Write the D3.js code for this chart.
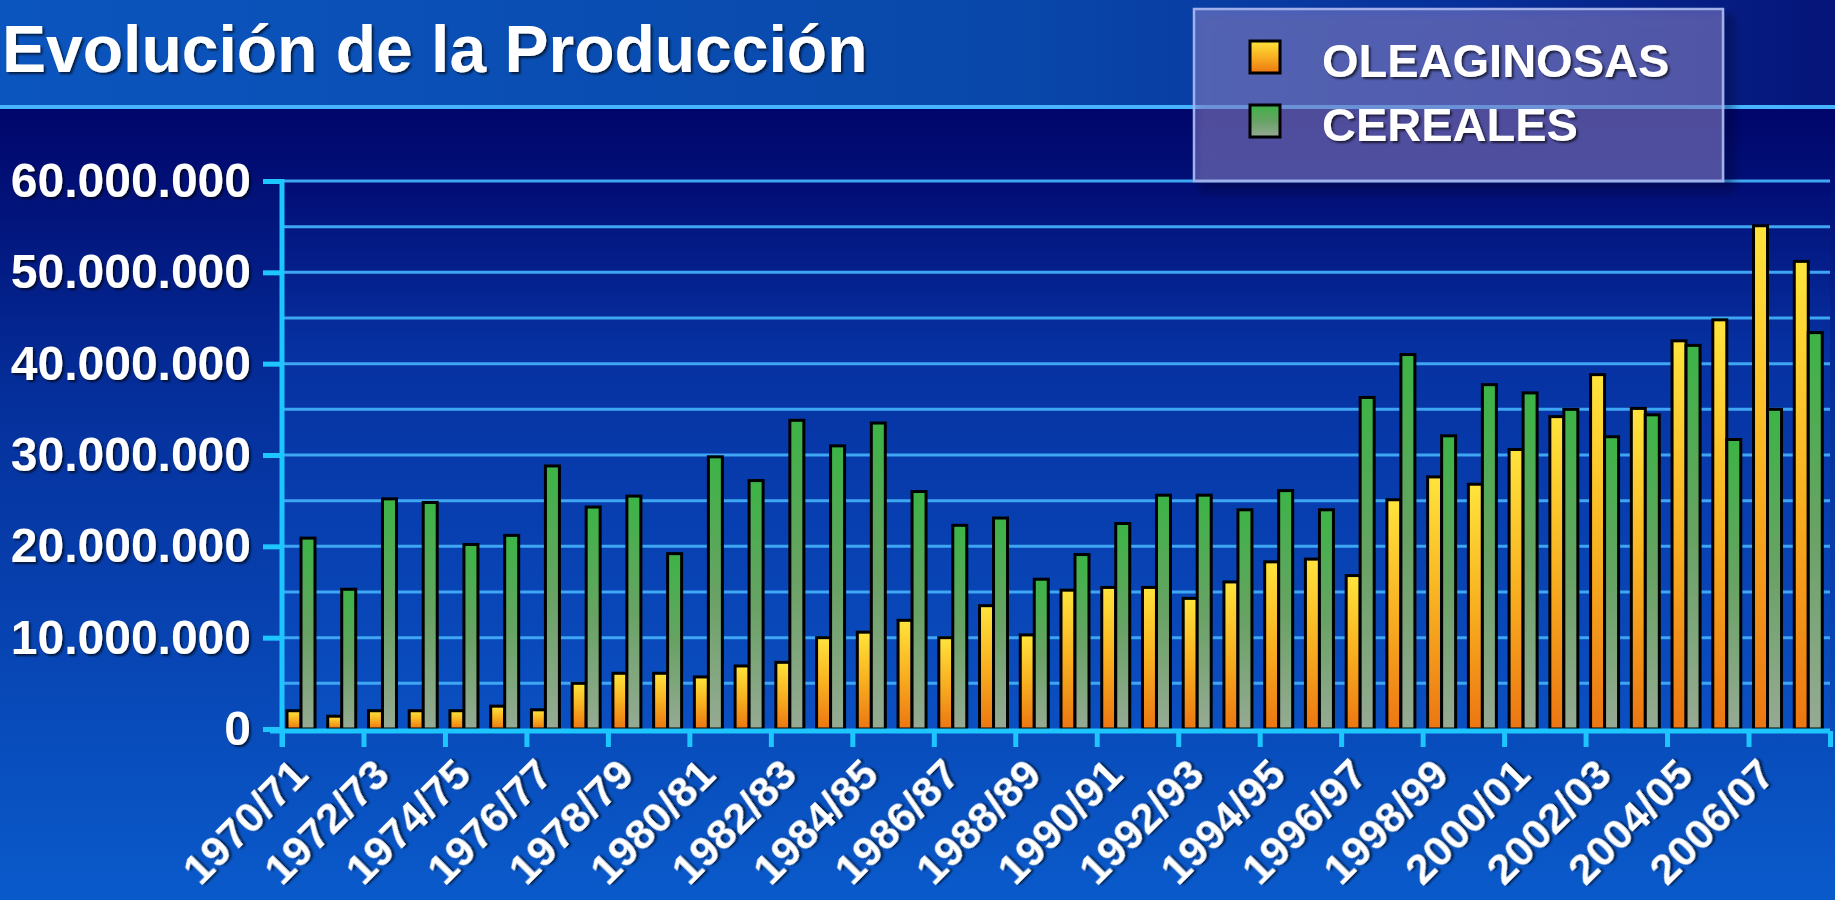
<!DOCTYPE html>
<html>
<head>
<meta charset="utf-8">
<script src="https://cdn.jsdelivr.net/npm/d3@7/dist/d3.min.js"></script>
<style>
  html, body { margin: 0; padding: 0; background: #00066a; overflow: hidden; }
  svg { display: block; font-family: "Liberation Sans", Arial, sans-serif; }
</style>
</head>
<body>
<div id="chart"></div>
<script>
// campaigns (1970/71 .. 2007/08)
const campaigns = [
  '1970/71','1971/72','1972/73','1973/74','1974/75','1975/76','1976/77','1977/78',
  '1978/79','1979/80','1980/81','1981/82','1982/83','1983/84','1984/85','1985/86',
  '1986/87','1987/88','1988/89','1989/90','1990/91','1991/92','1992/93','1993/94',
  '1994/95','1995/96','1996/97','1997/98','1998/99','1999/00','2000/01','2001/02',
  '2002/03','2003/04','2004/05','2005/06','2006/07','2007/08'
];

// tick labels shown under the axis (every other campaign)
const xLabels = [
  '1970/71','1972/73','1974/75','1976/77','1978/79','1980/81','1982/83','1984/85',
  '1986/87','1988/89','1990/91','1992/93','1994/95','1996/97','1998/99','2000/01',
  '2002/03','2004/05','2006/07'
];

// production in tonnes
const oleaginosas = [
  2000000, 1400000, 2000000, 2000000, 2000000, 2500000, 2100000, 5000000,
  6100000, 6100000, 5700000, 6900000, 7300000, 10000000, 10600000, 11900000,
  10000000, 13500000, 10300000, 15200000, 15500000, 15500000, 14300000, 16100000,
  18300000, 18600000, 16800000, 25100000, 27600000, 26800000, 30600000, 34200000,
  38800000, 35100000, 42500000, 44800000, 55100000, 51200000
];

const cereales = [
  20900000, 15300000, 25200000, 24800000, 20200000, 21200000, 28800000, 24300000,
  25500000, 19200000, 29800000, 27200000, 33800000, 31000000, 33500000, 26000000,
  22300000, 23100000, 16400000, 19100000, 22500000, 25600000, 25600000, 24000000,
  26100000, 24000000, 36300000, 41000000, 32100000, 37700000, 36800000, 35000000,
  32000000, 34400000, 42000000, 31700000, 35000000, 43400000
];

const seriesNames = ['OLEAGINOSAS', 'CEREALES'];
const yTicks = [0, 10000000, 20000000, 30000000, 40000000, 50000000, 60000000];
const gridValues = [5000000, 10000000, 15000000, 20000000, 25000000, 30000000,
  35000000, 40000000, 45000000, 50000000, 55000000, 60000000];

const W = 1835, H = 900;
const plot = { left: 282, right: 1830, top: 181, bottom: 729 };

const svg = d3.select('#chart').append('svg')
  .attr('width', W)
  .attr('height', H);

const defs = svg.append('defs');

// page background
const bgGrad = defs.append('linearGradient').attr('id', 'bgGrad')
  .attr('x1', 0).attr('y1', 0).attr('x2', 0).attr('y2', 1);
bgGrad.append('stop').attr('offset', '0.12').attr('stop-color', '#00056a');
bgGrad.append('stop').attr('offset', '0.45').attr('stop-color', '#05309c');
bgGrad.append('stop').attr('offset', '1').attr('stop-color', '#0a5acb');

const headGrad = defs.append('linearGradient').attr('id', 'headGrad')
  .attr('x1', 0).attr('y1', 0).attr('x2', 1).attr('y2', 0);
headGrad.append('stop').attr('offset', '0').attr('stop-color', '#0b55be');
headGrad.append('stop').attr('offset', '0.55').attr('stop-color', '#0948aa');
headGrad.append('stop').attr('offset', '0.8').attr('stop-color', '#07309a');
headGrad.append('stop').attr('offset', '1').attr('stop-color', '#051478');

const plotGrad = defs.append('linearGradient').attr('id', 'plotGrad')
  .attr('x1', 0).attr('y1', 0).attr('x2', 0).attr('y2', 1);
plotGrad.append('stop').attr('offset', '0').attr('stop-color', '#020c74');
plotGrad.append('stop').attr('offset', '0.3').attr('stop-color', '#0630a0');
plotGrad.append('stop').attr('offset', '1').attr('stop-color', '#0a50c2');

// bar fills
const oleGrad = defs.append('linearGradient').attr('id', 'oleGrad')
  .attr('x1', 0).attr('y1', 0).attr('x2', 0).attr('y2', 1);
oleGrad.append('stop').attr('offset', '0').attr('stop-color', '#ffe43c');
oleGrad.append('stop').attr('offset', '0.5').attr('stop-color', '#f8b020');
oleGrad.append('stop').attr('offset', '1').attr('stop-color', '#ec7612');

const cerGrad = defs.append('linearGradient').attr('id', 'cerGrad')
  .attr('x1', 0).attr('y1', 0).attr('x2', 0).attr('y2', 1);
cerGrad.append('stop').attr('offset', '0').attr('stop-color', '#3cb446');
cerGrad.append('stop').attr('offset', '0.5').attr('stop-color', '#68a264');
cerGrad.append('stop').attr('offset', '1').attr('stop-color', '#96aa94');

const shadow = defs.append('filter').attr('id', 'txtShadow')
  .attr('x', '-10%').attr('y', '-20%').attr('width', '130%').attr('height', '150%');
shadow.append('feDropShadow').attr('dx', 2).attr('dy', 2).attr('stdDeviation', 1.2)
  .attr('flood-color', '#000').attr('flood-opacity', 0.65);

const boxShadow = defs.append('filter').attr('id', 'boxShadow')
  .attr('x', '-10%').attr('y', '-10%').attr('width', '130%').attr('height', '140%');
boxShadow.append('feDropShadow').attr('dx', 8).attr('dy', 8).attr('stdDeviation', 5)
  .attr('flood-color', '#000020').attr('flood-opacity', 0.6);

// backgrounds
svg.append('rect').attr('width', W).attr('height', H).attr('fill', 'url(#bgGrad)');
svg.append('rect').attr('width', W).attr('height', 107).attr('fill', 'url(#headGrad)');

// scales
const x0 = d3.scaleBand().domain(campaigns).range([plot.left, plot.right]).padding(0);
const x1 = d3.scaleBand().domain(seriesNames).range([5, 33]).padding(0);
const y = d3.scaleLinear().domain([0, 60000000]).range([plot.bottom, plot.top]);
const xEdge = d3.scaleLinear().domain([0, campaigns.length]).range([plot.left, plot.right]);

const fmt = d3.formatLocale({ decimal: ',', thousands: '.', grouping: [3], currency: ['', ''] }).format(',d');

svg.append('rect')
  .attr('x', plot.left).attr('y', y(60000000))
  .attr('width', plot.right - plot.left).attr('height', y(0) - y(60000000))
  .attr('fill', 'url(#plotGrad)');

// grid lines
svg.append('g')
  .selectAll('line')
  .data(gridValues)
  .enter()
  .append('line')
  .attr('x1', plot.left).attr('x2', plot.right)
  .attr('y1', d => y(d)).attr('y2', d => y(d))
  .attr('stroke', '#3ea6f2')
  .attr('stroke-width', 3);

// header line
svg.append('line')
  .attr('x1', 0).attr('x2', W).attr('y1', 107).attr('y2', 107)
  .attr('stroke', '#46b4ff').attr('stroke-width', 4);

// bars
const rows = campaigns.map((c, i) => ({ campaign: c, values: [
  { key: 'OLEAGINOSAS', value: oleaginosas[i] },
  { key: 'CEREALES', value: cereales[i] }
] }));

const groups = svg.append('g')
  .selectAll('g')
  .data(rows)
  .enter()
  .append('g')
  .attr('transform', d => `translate(${x0(d.campaign)},0)`);

groups.selectAll('rect')
  .data(d => d.values)
  .enter()
  .append('rect')
  .attr('x', d => x1(d.key))
  .attr('y', d => y(d.value))
  .attr('width', x1.bandwidth())
  .attr('height', d => y(0) - y(d.value))
  .attr('fill', d => d.key === 'OLEAGINOSAS' ? 'url(#oleGrad)' : 'url(#cerGrad)')
  .attr('stroke', '#000')
  .attr('stroke-width', 3);

// y axis
const yAxis = svg.append('g')
  .attr('transform', `translate(${plot.left},0)`)
  .call(d3.axisLeft(y).tickValues(yTicks).tickSize(19).tickSizeOuter(0).tickPadding(12).tickFormat(fmt));
yAxis.select('.domain').remove();
yAxis.selectAll('.tick line').attr('stroke', '#1ec6ff').attr('stroke-width', 5);
yAxis.selectAll('.tick text')
  .attr('fill', '#fff')
  .attr('font-size', 48)
  .attr('font-weight', 'bold')
  .attr('filter', 'url(#txtShadow)');

// x axis ticks at campaign boundaries, every two campaigns
const xTicks = svg.append('g')
  .attr('transform', `translate(0,${plot.bottom + 2})`)
  .call(d3.axisBottom(xEdge).tickValues(d3.range(0, campaigns.length + 1, 2)).tickSize(16).tickSizeOuter(0).tickFormat(''));
xTicks.select('.domain').remove();
xTicks.selectAll('.tick line').attr('stroke', '#1ec6ff').attr('stroke-width', 5);

// axis lines
svg.append('line')
  .attr('x1', plot.left).attr('x2', plot.left)
  .attr('y1', y(60000000) - 2).attr('y2', plot.bottom + 18)
  .attr('stroke', '#1ec6ff').attr('stroke-width', 5);
svg.append('line')
  .attr('x1', plot.left - 12).attr('x2', plot.right)
  .attr('y1', plot.bottom + 2).attr('y2', plot.bottom + 2)
  .attr('stroke', '#1ec6ff').attr('stroke-width', 5);

// x labels
const xAxis = svg.append('g')
  .attr('transform', `translate(0,${plot.bottom + 2})`)
  .call(d3.axisBottom(x0).tickValues(xLabels).tickSize(0));
xAxis.select('.domain').remove();
xAxis.selectAll('.tick text')
  .attr('x', 0).attr('y', 0).attr('dy', 0)
  .attr('transform', 'translate(8,46) rotate(-45)')
  .attr('text-anchor', 'end')
  .attr('fill', '#fff')
  .attr('font-size', 43)
  .attr('font-weight', 'bold')
  .attr('filter', 'url(#txtShadow)');

// title
svg.append('text')
  .attr('x', 2).attr('y', 72)
  .attr('fill', '#fff')
  .attr('font-size', 66)
  .attr('font-weight', 'bold')
  .attr('filter', 'url(#txtShadow)')
  .text('Evolución de la Producción');

// legend
const legend = svg.append('g');
legend.append('rect')
  .attr('x', 1194).attr('y', 9).attr('width', 529).attr('height', 172)
  .attr('fill', 'rgba(150,140,212,0.45)')
  .attr('stroke', '#a2b0ea').attr('stroke-width', 2.5)
  .attr('filter', 'url(#boxShadow)');

const legendItems = legend.selectAll('.item')
  .data(seriesNames)
  .enter()
  .append('g')
  .attr('class', 'item')
  .attr('transform', (d, i) => `translate(1250,${41 + i * 64})`);

legendItems.append('rect')
  .attr('width', 30).attr('height', 32)
  .attr('fill', d => d === 'OLEAGINOSAS' ? 'url(#oleGrad)' : 'url(#cerGrad)')
  .attr('stroke', '#000').attr('stroke-width', 3);

legendItems.append('text')
  .attr('x', 72).attr('y', 36)
  .attr('fill', '#fff')
  .attr('font-size', 47)
  .attr('font-weight', 'bold')
  .attr('filter', 'url(#txtShadow)')
  .text(d => d);
</script>
</body>
</html>
